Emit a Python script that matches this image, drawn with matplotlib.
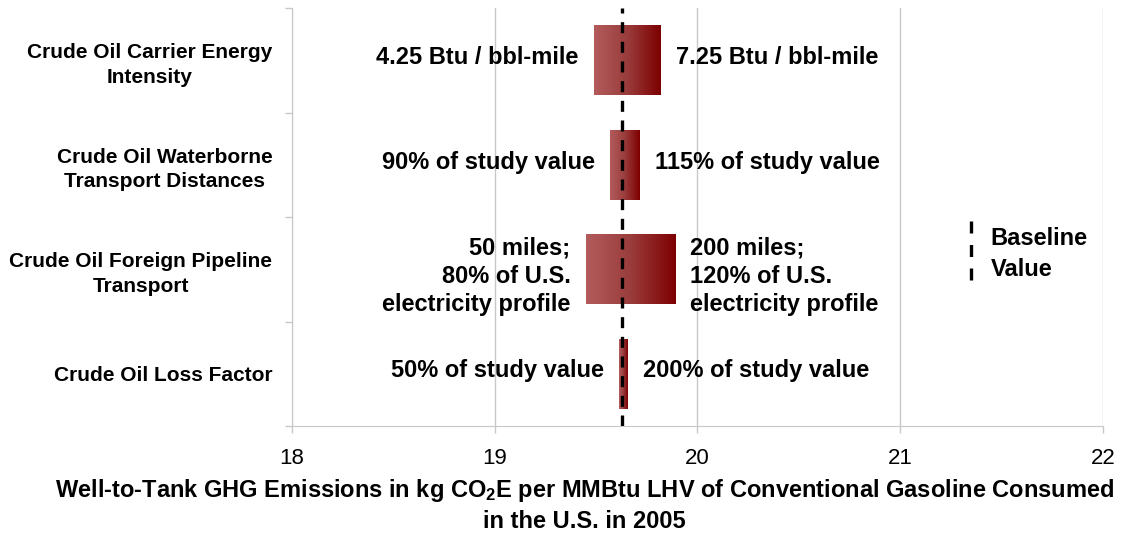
import numpy as np
import matplotlib.pyplot as plt
from matplotlib.colors import LinearSegmentedColormap

plt.rcParams['font.family'] = ['Liberation Sans', 'DejaVu Sans']
plt.rcParams['mathtext.fontset'] = 'custom'
plt.rcParams['mathtext.rm'] = 'Liberation Sans:bold'
plt.rcParams['mathtext.it'] = 'Liberation Sans:bold'
plt.rcParams['mathtext.bf'] = 'Liberation Sans:bold'

# Sensitivity cases (top to bottom)
categories = ['Crude Oil Carrier Energy\nIntensity',
              'Crude Oil Waterborne\nTransport Distances',
              'Crude Oil Foreign Pipeline\nTransport',
              'Crude Oil Loss Factor']
low_values = [19.49, 19.57, 19.45, 19.615]
high_values = [19.82, 19.715, 19.89, 19.655]
low_labels = ['4.25 Btu / bbl-mile', '90% of study value',
              '50 miles;\n80% of U.S.\nelectricity profile', '50% of study value']
high_labels = ['7.25 Btu / bbl-mile', '115% of study value',
               '200 miles;\n120% of U.S.\nelectricity profile', '200% of study value']
baseline = 19.628
xticks = [18, 19, 20, 21, 22]

grid_col = '#c8c8c8'
cmap = LinearSegmentedColormap.from_list('bar', ['#b35c5c', '#9a3c3c', '#7d0000'])

fig = plt.figure(figsize=(11.22, 5.42), dpi=100)
ax = fig.add_axes([0.26, 0.214, 0.723, 0.771])

bar_h = 0.67
grad = np.linspace(0, 1, 256).reshape(1, -1)
for i in range(len(categories)):
    ax.imshow(grad, cmap=cmap, aspect='auto', interpolation='bilinear',
              extent=(low_values[i], high_values[i], i + bar_h / 2, i - bar_h / 2),
              zorder=2)
    # multi-line labels sit a bit lower than single-line ones
    dy = 2 if '\n' not in low_labels[i] else -5
    ax.annotate(low_labels[i], (low_values[i], i), xytext=(-11, dy),
                textcoords='offset points', ha='right', va='center',
                multialignment='right', fontsize=17, fontweight='bold',
                linespacing=1.3, zorder=4)
    ax.annotate(high_labels[i], (high_values[i], i), xytext=(11, dy),
                textcoords='offset points', ha='left', va='center',
                multialignment='left', fontsize=17, fontweight='bold',
                linespacing=1.3, zorder=4)

# Baseline
ax.axvline(baseline, color='black', lw=2.4, linestyle=(0, (3.3, 2.6)), zorder=3)

# Legend for baseline
ax.plot([21.35, 21.35], [1.54, 2.1], color='black', lw=2.4,
        linestyle=(0, (3.6, 3.45)), zorder=3)
ax.text(21.445, 1.85, 'Baseline\nValue', ha='left', va='center',
        fontsize=17, fontweight='bold', linespacing=1.45)

ax.set_xlim(18, 22)
ax.set_ylim(3.5, -0.5)

ax.set_xticks(xticks)
ax.set_xticklabels([str(t) for t in xticks], fontsize=16)
ax.grid(axis='x', color=grid_col, lw=1, zorder=0)
ax.set_axisbelow(True)

ax.set_yticks(np.arange(-0.5, len(categories), 1.0))
ax.set_yticklabels([])
ax.set_yticks(range(len(categories)), minor=True)
ax.set_yticklabels(categories, minor=True, fontsize=15, fontweight='bold')
for lab in ax.get_yticklabels(minor=True):
    lab.set_multialignment('center')
    lab.set_linespacing(1.35)
ax.tick_params(axis='y', which='minor', length=0, pad=14)
ax.tick_params(axis='both', which='major', length=5, color=grid_col, width=1)
ax.tick_params(axis='x', pad=11)

for s in ['top', 'right']:
    ax.spines[s].set_visible(False)
for s in ['left', 'bottom']:
    ax.spines[s].set_color(grid_col)

fig.text(0.521, 0.068,
         'Well-to-Tank GHG Emissions in kg CO$_2$E per MMBtu LHV of Conventional Gasoline Consumed\nin the U.S. in 2005',
         ha='center', va='center', fontsize=17, fontweight='bold',
         multialignment='center', linespacing=1.3)

fig.savefig('out.png', dpi=100)
